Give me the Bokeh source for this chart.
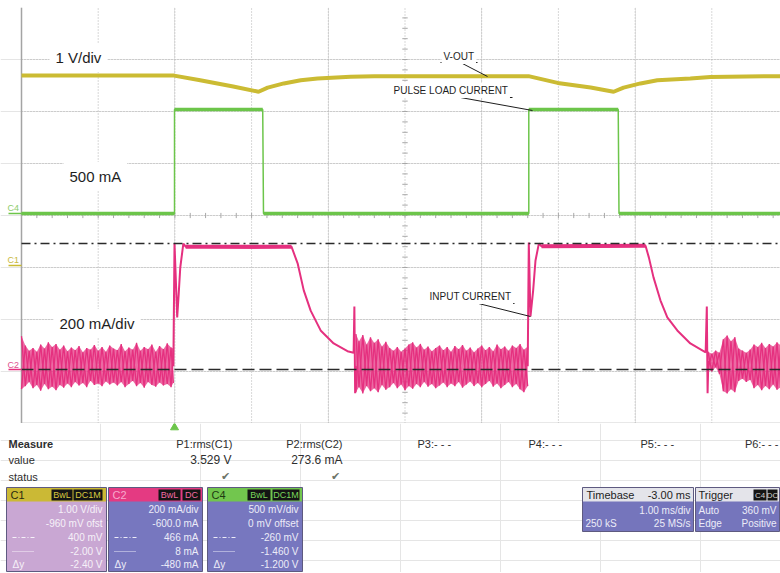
from bokeh.plotting import figure
from bokeh.models import Range1d, Label
from bokeh.layouts import column
from bokeh.embed import file_html
from bokeh.resources import INLINE
from bokeh.core.properties import value

FONT = "Liberation Sans"
YEL = "#cbbb33"
GRN = "#6cc54a"
PINK = "#e5307f"

# ---------------- data: time in ms from left screen edge, amplitude in screen divisions ----------------
vout_t = [0.0, 1.99, 2.33, 2.76, 3.09, 3.21, 3.42, 3.64, 3.86, 4.29, 4.6,
          6.61, 6.99, 7.42, 7.72, 7.85, 8.07, 8.29, 8.72, 8.98, 9.9]
vout_div = [6.69, 6.69, 6.60, 6.48, 6.38, 6.46, 6.54, 6.60, 6.635, 6.67, 6.68,
            6.68, 6.55, 6.46, 6.38, 6.46, 6.54, 6.60, 6.635, 6.665, 6.68]

load_t = [0.0, 1.995, 1.995, 3.145, 3.155, 6.614, 6.614, 7.78, 7.79, 9.9]
load_div = [4.04, 4.04, 6.04, 6.04, 4.04, 4.04, 6.04, 6.04, 4.04, 4.04]

input1_t = [1.98, 1.995, 2.03, 2.05, 2.07, 2.11, 2.14, 2.60, 3.00, 3.52, 3.60, 3.68,
            3.77, 3.90, 4.07, 4.25, 4.33, 4.34, 4.35, 4.36]
input1_div = [1.10, 3.46, 2.04, 2.50, 3.00, 3.46, 3.40, 3.39, 3.38, 3.40, 3.08, 2.56,
              2.17, 1.79, 1.54, 1.39, 1.36, 2.25, 0.58, 1.10]
input2_t = [6.60, 6.614, 6.636, 6.671, 6.701, 6.745, 6.78, 7.40, 8.136, 8.18, 8.24,
            8.33, 8.42, 8.55, 8.72, 8.92, 8.935, 8.945, 8.955]
input2_div = [1.10, 3.48, 2.06, 2.56, 3.13, 3.46, 3.41, 3.40, 3.42, 3.19, 2.81,
              2.37, 2.04, 1.79, 1.54, 1.37, 2.25, 0.58, 1.20]

# noise envelope of the input current (upper / lower edge)
noise1_t = [0.00, 0.05, 0.10, 0.15, 0.20, 0.25, 0.30, 0.35, 0.40, 0.45, 0.50, 0.55, 0.60, 0.65,
            0.70, 0.75, 0.80, 0.85, 0.90, 0.95, 1.00, 1.05, 1.10, 1.15, 1.20, 1.25, 1.30, 1.35,
            1.40, 1.45, 1.50, 1.55, 1.60, 1.65, 1.70, 1.75, 1.80, 1.85, 1.90, 1.95, 1.98]
noise1_hi = [1.68, 1.50, 1.40, 1.45, 1.38, 1.52, 1.44, 1.56, 1.47, 1.53, 1.42, 1.50, 1.39, 1.46,
             1.41, 1.49, 1.37, 1.45, 1.42, 1.51, 1.40, 1.47, 1.38, 1.50, 1.44, 1.41, 1.53, 1.39,
             1.46, 1.42, 1.55, 1.40, 1.47, 1.43, 1.52, 1.38, 1.49, 1.43, 1.54, 1.46, 1.44]
noise1_lo = [0.66, 0.72, 0.80, 0.68, 0.74, 0.63, 0.76, 0.66, 0.71, 0.64, 0.74, 0.69, 0.77, 0.70,
             0.80, 0.73, 0.78, 0.70, 0.82, 0.74, 0.77, 0.72, 0.81, 0.75, 0.79, 0.73, 0.80, 0.70,
             0.76, 0.82, 0.72, 0.78, 0.69, 0.80, 0.74, 0.71, 0.79, 0.73, 0.76, 0.70, 0.78]

noise2_t = [4.36, 4.40, 4.45, 4.50, 4.55, 4.60, 4.65, 4.70, 4.75, 4.80, 4.85, 4.90, 4.95, 5.00,
            5.05, 5.10, 5.15, 5.20, 5.25, 5.30, 5.35, 5.40, 5.45, 5.50, 5.55, 5.60, 5.65, 5.70,
            5.75, 5.80, 5.85, 5.90, 5.95, 6.00, 6.05, 6.10, 6.15, 6.20, 6.25, 6.30, 6.35, 6.40,
            6.45, 6.50, 6.55, 6.60]
noise2_hi = [1.72, 1.58, 1.70, 1.52, 1.66, 1.55, 1.62, 1.48, 1.57, 1.45, 1.40, 1.47, 1.38, 1.44,
             1.52, 1.56, 1.46, 1.53, 1.42, 1.48, 1.39, 1.45, 1.50, 1.41, 1.47, 1.38, 1.49, 1.43,
             1.51, 1.40, 1.46, 1.37, 1.44, 1.50, 1.41, 1.47, 1.39, 1.52, 1.43, 1.48, 1.40, 1.50,
             1.45, 1.53, 1.42, 1.48]
noise2_lo = [0.60, 0.70, 0.58, 0.72, 0.62, 0.68, 0.60, 0.74, 0.65, 0.70, 0.78, 0.68, 0.75, 0.64,
             0.72, 0.67, 0.76, 0.70, 0.80, 0.71, 0.76, 0.68, 0.73, 0.79, 0.70, 0.77, 0.72, 0.80,
             0.69, 0.75, 0.81, 0.72, 0.78, 0.70, 0.76, 0.82, 0.71, 0.77, 0.68, 0.74, 0.80, 0.70,
             0.76, 0.66, 0.60, 0.72]

noise3_t = [8.95, 9.00, 9.05, 9.10, 9.15, 9.20, 9.25, 9.30, 9.35, 9.40, 9.45, 9.50, 9.55, 9.60,
            9.65, 9.70, 9.75, 9.80, 9.85, 9.90]
noise3_hi = [1.38, 1.34, 1.40, 1.36, 1.62, 1.69, 1.58, 1.66, 1.44, 1.40, 1.36, 1.42, 1.52, 1.47,
             1.55, 1.45, 1.53, 1.48, 1.56, 1.50]
noise3_lo = [1.05, 1.00, 1.08, 0.95, 0.62, 0.58, 0.66, 0.60, 0.82, 0.86, 0.80, 0.84, 0.68, 0.74,
             0.64, 0.72, 0.66, 0.75, 0.65, 0.70]

cursor_hi_div = 3.46   # 466 mA cursor (dash-dot)
cursor_lo_div = 1.04   # 8 mA cursor (dashed)
trigger_t = 1.995

# measurement panel texts
meas_cols = ["P1:rms(C1)", "P2:rms(C2)", "P3:- - -", "P4:- - -", "P5:- - -", "P6:- - -"]
meas_values = ["3.529 V", "273.6 mA"]

ch_names = ["C1", "C2", "C4"]
ch_badges = [["BwL", "DC1M"], ["BwL", "DC"], ["BwL", "DC1M"]]
ch_rows = [["1.00 V/div", "-960 mV ofst", "400 mV", "-2.00 V", "-2.40 V"],
           ["200 mA/div", "-600.0 mA", "466 mA", "8 mA", "-480 mA"],
           ["500 mV/div", "0 mV offset", "-260 mV", "-1.460 V", "-1.200 V"]]
timebase_rows = ["-3.00 ms", "1.00 ms/div", "250 kS", "25 MS/s"]
trigger_rows = ["Auto", "360 mV", "Edge", "Positive"]

# ---------------- scope screen ----------------
W = 780
H1 = 423
H2 = 149
LEFT = 21          # screen left edge in pixels
PXDIV_X = 76.7
PXDIV_Y = 52.0
XMIN = -LEFT / PXDIV_X
XMAX = (W - LEFT) / PXDIV_X

p = figure(width=W, height=H1, x_range=Range1d(XMIN, XMAX), y_range=Range1d(0, 8), title=None,
           output_backend="svg", toolbar_location=None,
           x_axis_location=None, y_axis_location=None,
           min_border_left=0, min_border_right=0, min_border_top=7, min_border_bottom=0)
p.outline_line_color = None
p.background_fill_color = "white"
p.border_fill_color = "white"

GRID = "#b2b2b2"
p.segment(x0=list(range(1, 10)), y0=0, x1=list(range(1, 10)), y1=8,
          line_color=GRID, line_dash="1 2", line_width=1)
p.segment(x0=0, y0=list(range(1, 8)), x1=XMAX, y1=list(range(1, 8)),
          line_color=GRID, line_dash="1 2", line_width=1)
p.segment(x0=[0, 0], y0=[0, 0], x1=[0, XMAX], y1=[8, 0], line_color="#a4a4a4", line_width=1.5)

tick_t = [i * 0.2 for i in range(0, 50)]
tick_d = [i * 0.2 for i in range(0, 40)]
p.segment(x0=tick_t, y0=3.95, x1=tick_t, y1=4.05, line_color="#a8a8a8", line_width=1)
p.segment(x0=4.965, y0=tick_d, x1=5.035, y1=tick_d, line_color="#a8a8a8", line_width=1)

# traces
p.line(vout_t, vout_div, line_color=YEL, line_width=4)

p.line(load_t, load_div, line_color=GRN, line_width=1.5)
flat = [i for i in range(len(load_t) - 1) if load_div[i] == load_div[i + 1]]
p.segment(x0=[load_t[i] for i in flat], y0=[load_div[i] for i in flat],
          x1=[load_t[i + 1] for i in flat], y1=[load_div[i + 1] for i in flat],
          line_color=GRN, line_width=3.5)

for nt, nl, nh in [(noise1_t, noise1_lo, noise1_hi), (noise2_t, noise2_lo, noise2_hi),
                   (noise3_t, noise3_lo, noise3_hi)]:
    p.varea(x=nt, y1=nl, y2=nh, fill_color=PINK, fill_alpha=0.72)
    # the noisy trace swings between the two edges of the envelope
    zig_a = [nh[i] if i % 2 == 0 else nl[i] for i in range(len(nt))]
    zig_b = [nl[i] if i % 2 == 0 else nh[i] for i in range(len(nt))]
    p.line(nt, zig_a, line_color=PINK, line_width=1.3)
    p.line(nt, zig_b, line_color=PINK, line_width=1.3)
p.line(input1_t, input1_div, line_color=PINK, line_width=2)
p.line(input2_t, input2_div, line_color=PINK, line_width=2)
p.segment(x0=[input1_t[6], input2_t[6]], y0=[input1_div[6], input2_div[6]],
          x1=[input1_t[9], input2_t[8]], y1=[input1_div[9], input2_div[8]],
          line_color=PINK, line_width=4)

# cursors
p.segment(x0=0, y0=[cursor_hi_div], x1=XMAX, y1=[cursor_hi_div], line_color="#2a2a2a",
          line_dash="9 4 2 4", line_width=1.5)
p.segment(x0=0, y0=[cursor_lo_div], x1=XMAX, y1=[cursor_lo_div], line_color="#2a2a2a",
          line_dash="12 5", line_width=1.5)


def sx(x):
    return (x - LEFT) / PXDIV_X


def sy(y):
    return (423 - y) / PXDIV_Y


for txt, x, y in [("1 V/div", 55, 57), ("500 mA", 69, 176), ("200 mA/div", 59, 323)]:
    p.add_layout(Label(x=sx(x - 6), y=sy(y), text=txt, text_font=FONT, text_font_size="15px",
                       text_color="#1e1e1e", text_baseline="middle", text_align="left",
                       background_fill_color="white", padding=6))

for txt, x, y in [("V-OUT", 443, 56), ("PULSE LOAD CURRENT", 393, 90), ("INPUT CURRENT", 429, 296)]:
    p.add_layout(Label(x=sx(x - 2), y=sy(y), text=txt, text_font=FONT, text_font_size="10px",
                       text_color="#1e1e1e", text_baseline="middle", text_align="left",
                       background_fill_color="white", padding=2))

ul = [(440, 62, 477, 62), (460, 62, 487, 76),
      (398, 97, 512, 97), (460, 97, 532, 110),
      (435, 303, 514, 303), (478, 303, 530, 316)]
p.segment(x0=[sx(a[0]) for a in ul], y0=[sy(a[1]) for a in ul],
          x1=[sx(a[2]) for a in ul], y1=[sy(a[3]) for a in ul],
          line_color="#1e1e1e", line_width=1)

for txt, y, col in [("C4", 207, "#8ccc6c"), ("C1", 259, "#c8b840"), ("C2", 364, "#e05090")]:
    p.add_layout(Label(x=sx(7), y=sy(y), text=txt, text_font=FONT, text_font_size="9px",
                       text_color=col, text_baseline="middle", text_align="left"))
mk_y = [sy(213), sy(265), sy(369)]
p.segment(x0=sx(8), y0=mk_y, x1=sx(21), y1=mk_y, line_color=[GRN, YEL, PINK], line_width=1.5)

# ---------------- measurement / channel panel ----------------
q = figure(width=W, height=H2, x_range=Range1d(0, W), y_range=Range1d(H1 + H2, H1), title=None,
           output_backend="svg", toolbar_location=None,
           x_axis_location=None, y_axis_location=None, min_border=0)
q.outline_line_color = None
q.background_fill_color = "white"
q.border_fill_color = "white"

q.scatter(x=[LEFT + trigger_t * PXDIV_X], y=[427], marker="triangle", size=8, color=GRN)

TXT = "#2e2e2e"
q.text(x=[8, 8], y=[459, 476], text=["value", "status"],
       text_font=value(FONT), text_font_size="11px", text_color=TXT, text_baseline="middle")
q.text(x=[8], y=[443], text=["Measure"], text_font=value(FONT), text_font_size="11px",
       text_color=TXT, text_baseline="middle", text_font_style="bold")
q.text(x=[232, 342], y=[443, 443], text=meas_cols[:2], text_font=value(FONT),
       text_font_size="11px", text_color=TXT, text_baseline="middle", text_align="right")
q.text(x=[417, 528, 640], y=[443] * 3, text=meas_cols[2:5], text_font=value(FONT),
       text_font_size="11px", text_color=TXT, text_baseline="middle", text_align="left")
q.text(x=[778], y=[443], text=meas_cols[5:], text_font=value(FONT),
       text_font_size="11px", text_color=TXT, text_baseline="middle", text_align="right")
q.text(x=[231, 342], y=[459, 459], text=meas_values, text_font=value(FONT),
       text_font_size="12px", text_color=TXT, text_baseline="middle", text_align="right")
q.text(x=[225, 335], y=[476, 476], text=["\u2714", "\u2714"], text_font=value("DejaVu Sans"),
       text_font_size="11px", text_color="#6d7468", text_baseline="middle", text_align="center")

ch_left = [6, 108, 207]
ch_right = [106, 202, 302]
ch_hdr = ["#cbb935", "#e43a82", "#72c64e"]
ch_body = ["#c9a7d3", "#7777bf", "#7777bf"]
ch_name_col = ["#2a2a10", "#f7a9cd", "#1f3a12"]
ch_badge_col = ["#d8c840", "#f26ba3", "#7ad85a"]
ch_badge_x = [[(51, 72), (73, 102)], [(158, 180), (182, 200)], [(247, 270), (272, 299)]]
ch_text_col = ["#f6f1f8", "#ececf8", "#ececf8"]
TOP, HB, BOT = 487, 501, 571
row_y = [509, 523, 537, 551, 564]

for i in range(3):
    L, R = ch_left[i], ch_right[i]
    q.quad(left=L, right=R, top=TOP, bottom=BOT, fill_color=ch_body[i], line_color="#5e5a80", line_width=1)
    q.quad(left=L + 0.5, right=R - 0.5, top=TOP + 0.5, bottom=HB, fill_color=ch_hdr[i], line_color=None)
    q.text(x=[L + 4], y=[494.5], text=[ch_names[i]], text_font=value(FONT), text_font_size="11px",
           text_color=ch_name_col[i], text_baseline="middle")
    for (bl, br), bt in zip(ch_badge_x[i], ch_badges[i]):
        q.quad(left=bl, right=br, top=489, bottom=500, fill_color="#141414", line_color=None)
        q.text(x=[(bl + br) / 2], y=[494.8], text=[bt], text_font=value(FONT), text_font_size="9px",
               text_color=ch_badge_col[i], text_baseline="middle", text_align="center")
    q.text(x=[R - 4] * 5, y=row_y, text=ch_rows[i], text_font=value(FONT), text_font_size="10px",
           text_color=ch_text_col[i], text_baseline="middle", text_align="right")
    q.segment(x0=[L + 6], y0=[row_y[2]], x1=[L + 28], y1=[row_y[2]], line_color=ch_text_col[i],
              line_dash="4 2 1 2", line_width=1)
    q.segment(x0=[L + 6], y0=[row_y[3]], x1=[L + 28], y1=[row_y[3]], line_color=ch_text_col[i],
              line_dash="1 1", line_width=1)
    q.text(x=[L + 6], y=[row_y[4]], text=["\u0394y"], text_font=value(FONT), text_font_size="10px",
           text_color=ch_text_col[i], text_baseline="middle")

# timebase
TB_BOT = 531
q.quad(left=582, right=693, top=TOP, bottom=TB_BOT, fill_color="#7575bc", line_color="#5e5a80")
q.quad(left=582.5, right=692.5, top=TOP + 0.5, bottom=HB, fill_color="#e4e4ea", line_color=None)
q.text(x=[586], y=[494.5], text=["Timebase"], text_font=value(FONT), text_font_size="11px",
       text_color="#1e1e1e", text_baseline="middle")
q.text(x=[690], y=[494.5], text=[timebase_rows[0]], text_font=value(FONT), text_font_size="11px",
       text_color="#1e1e1e", text_baseline="middle", text_align="right")
q.text(x=[690, 690], y=[510, 523], text=[timebase_rows[1], timebase_rows[3]], text_font=value(FONT),
       text_font_size="10px", text_color="#ececf8", text_baseline="middle", text_align="right")
q.text(x=[585], y=[523], text=[timebase_rows[2]], text_font=value(FONT),
       text_font_size="10px", text_color="#ececf8", text_baseline="middle")

# trigger
q.quad(left=695, right=779, top=TOP, bottom=TB_BOT, fill_color="#7575bc", line_color="#5e5a80")
q.quad(left=695.5, right=778.5, top=TOP + 0.5, bottom=HB, fill_color="#e4e4ea", line_color=None)
q.text(x=[698], y=[494.5], text=["Trigger"], text_font=value(FONT), text_font_size="11px",
       text_color="#1e1e1e", text_baseline="middle")
q.quad(left=[753, 767], right=[766, 777], top=489, bottom=500, fill_color="#141414", line_color=None)
q.text(x=[759.5, 772], y=[494.8, 494.8], text=["C4", "DC"], text_font=value(FONT), text_font_size="8px",
       text_color="#d0d0d0", text_baseline="middle", text_align="center")
q.text(x=[698, 698], y=[510, 523], text=[trigger_rows[0], trigger_rows[2]], text_font=value(FONT),
       text_font_size="10px", text_color="#ececf8", text_baseline="middle")
q.text(x=[776, 776], y=[510, 523], text=[trigger_rows[1], trigger_rows[3]], text_font=value(FONT),
       text_font_size="10px", text_color="#ececf8", text_baseline="middle", text_align="right")

layout = column(p, q, spacing=0)
open("out.html", "w").write(file_html(layout, INLINE))
